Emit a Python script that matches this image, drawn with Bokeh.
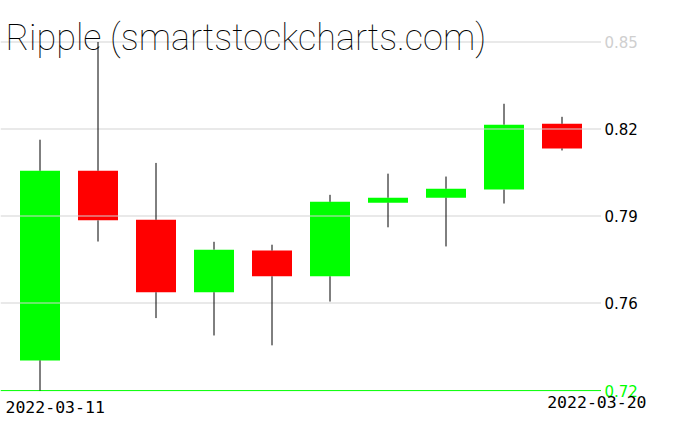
from bokeh.plotting import figure
from bokeh.models import Range1d, ColumnDataSource
from bokeh.core.properties import value
from bokeh.embed import file_html
from bokeh.resources import INLINE

# ---- data ----
dates = ["2022-03-11", "2022-03-12", "2022-03-13", "2022-03-14", "2022-03-15",
         "2022-03-16", "2022-03-17", "2022-03-18", "2022-03-19", "2022-03-20"]
opens = [0.7402, 0.8056, 0.7887, 0.7637, 0.7781, 0.7692, 0.7946, 0.7963, 0.7991, 0.8218]
highs = [0.8163, 0.8500, 0.8083, 0.7811, 0.7801, 0.7973, 0.8046, 0.8036, 0.8287, 0.8242]
lows = [0.7298, 0.7812, 0.7548, 0.7488, 0.7454, 0.7605, 0.7861, 0.7795, 0.7943, 0.8126]
closes = [0.8056, 0.7885, 0.7637, 0.7784, 0.7692, 0.7949, 0.7963, 0.7994, 0.8215, 0.8133]

tick_values = [0.76, 0.79, 0.82]
tick_labels = ["0.76", "0.79", "0.82"]
max_label = "0.85"
min_label = "0.72"
title_text = "Ripple (smartstockcharts.com)"

# ---- layout helpers (canvas pixel -> data) ----
PX_PER_DAY = 58.0
PX_PER_UNIT = 2900.0


def xd(px):
    return (px - 39.5) / PX_PER_DAY


def yd(py):
    return 0.82 - (py - 128.5) / PX_PER_UNIT


W, H = 660, 415
p = figure(width=W, height=H,
           x_range=Range1d(xd(0), xd(W)),
           y_range=Range1d(yd(H), yd(0)),
           output_backend="svg", toolbar_location=None,
           x_axis_location=None, y_axis_location=None,
           min_border=0, background_fill_color="white",
           border_fill_color="white")
p.grid.visible = False
p.outline_line_color = None

idx = list(range(len(dates)))
tops = [max(o, c) for o, c in zip(opens, closes)]
bots = [min(o, c) for o, c in zip(opens, closes)]
cols = ["#00ff00" if c >= o else "#ff0000" for o, c in zip(opens, closes)]

src = ColumnDataSource(dict(x=idx, top=tops, bottom=bots, color=cols,
                            high=highs, low=lows))

# bodies
p.vbar(x="x", width=40 / PX_PER_DAY, top="top", bottom="bottom",
       fill_color="color", line_color=None, source=src)

# grid lines
max_high = max(highs)
min_low = min(lows)
grid_levels = tick_values + [max_high]
x_left = xd(0)
x_right = xd(600.5)
p.segment(x0=[x_left] * len(grid_levels), x1=[x_right] * len(grid_levels),
          y0=grid_levels, y1=grid_levels, line_color="#d3d3d3", line_width=1)
p.segment(x0=[x_left], x1=[x_right], y0=[min_low], y1=[min_low],
          line_color="#00ff00", line_width=1)

# wicks
p.segment(x0="x", x1="x", y0="high", y1="top", line_color="black",
          line_width=1, source=src)
p.segment(x0="x", x1="x", y0="bottom", y1="low", line_color="black",
          line_width=1, source=src)

# right-hand labels
lab_x = xd(604)
p.text(x=[lab_x] * len(tick_values), y=tick_values, text=tick_labels,
       text_font=value("DejaVu Sans"), text_font_size="15px",
       text_color="black", text_align="left", text_baseline="alphabetic")
p.text(x=[lab_x], y=[max_high], text=[max_label],
       text_font=value("DejaVu Sans"), text_font_size="15px",
       text_color="#cfcfcf", text_align="left", text_baseline="alphabetic")
p.text(x=[lab_x], y=[min_low], text=[min_label],
       text_font=value("DejaVu Sans"), text_font_size="15px",
       text_color="#00ff00", text_align="left", text_baseline="alphabetic")

# date labels
p.text(x=[xd(5)], y=[yd(406)], text=[dates[0]],
       text_font=value("DejaVu Sans Mono"), text_font_size="16.5px",
       text_color="black", text_align="left", text_baseline="alphabetic")
p.text(x=[xd(646)], y=[yd(401)], text=[dates[-1]],
       text_font=value("DejaVu Sans Mono"), text_font_size="16.5px",
       text_color="black", text_align="right", text_baseline="alphabetic")

# title
p.text(x=[xd(5)], y=[yd(37)], text=[title_text],
       text_font=value("'Roboto Thin', 'Roboto Light', 'DejaVu Sans'"),
       text_font_size="36px", text_color="black",
       text_align="left", text_baseline="alphabetic")

open("out.html", "w").write(file_html(p, INLINE))
